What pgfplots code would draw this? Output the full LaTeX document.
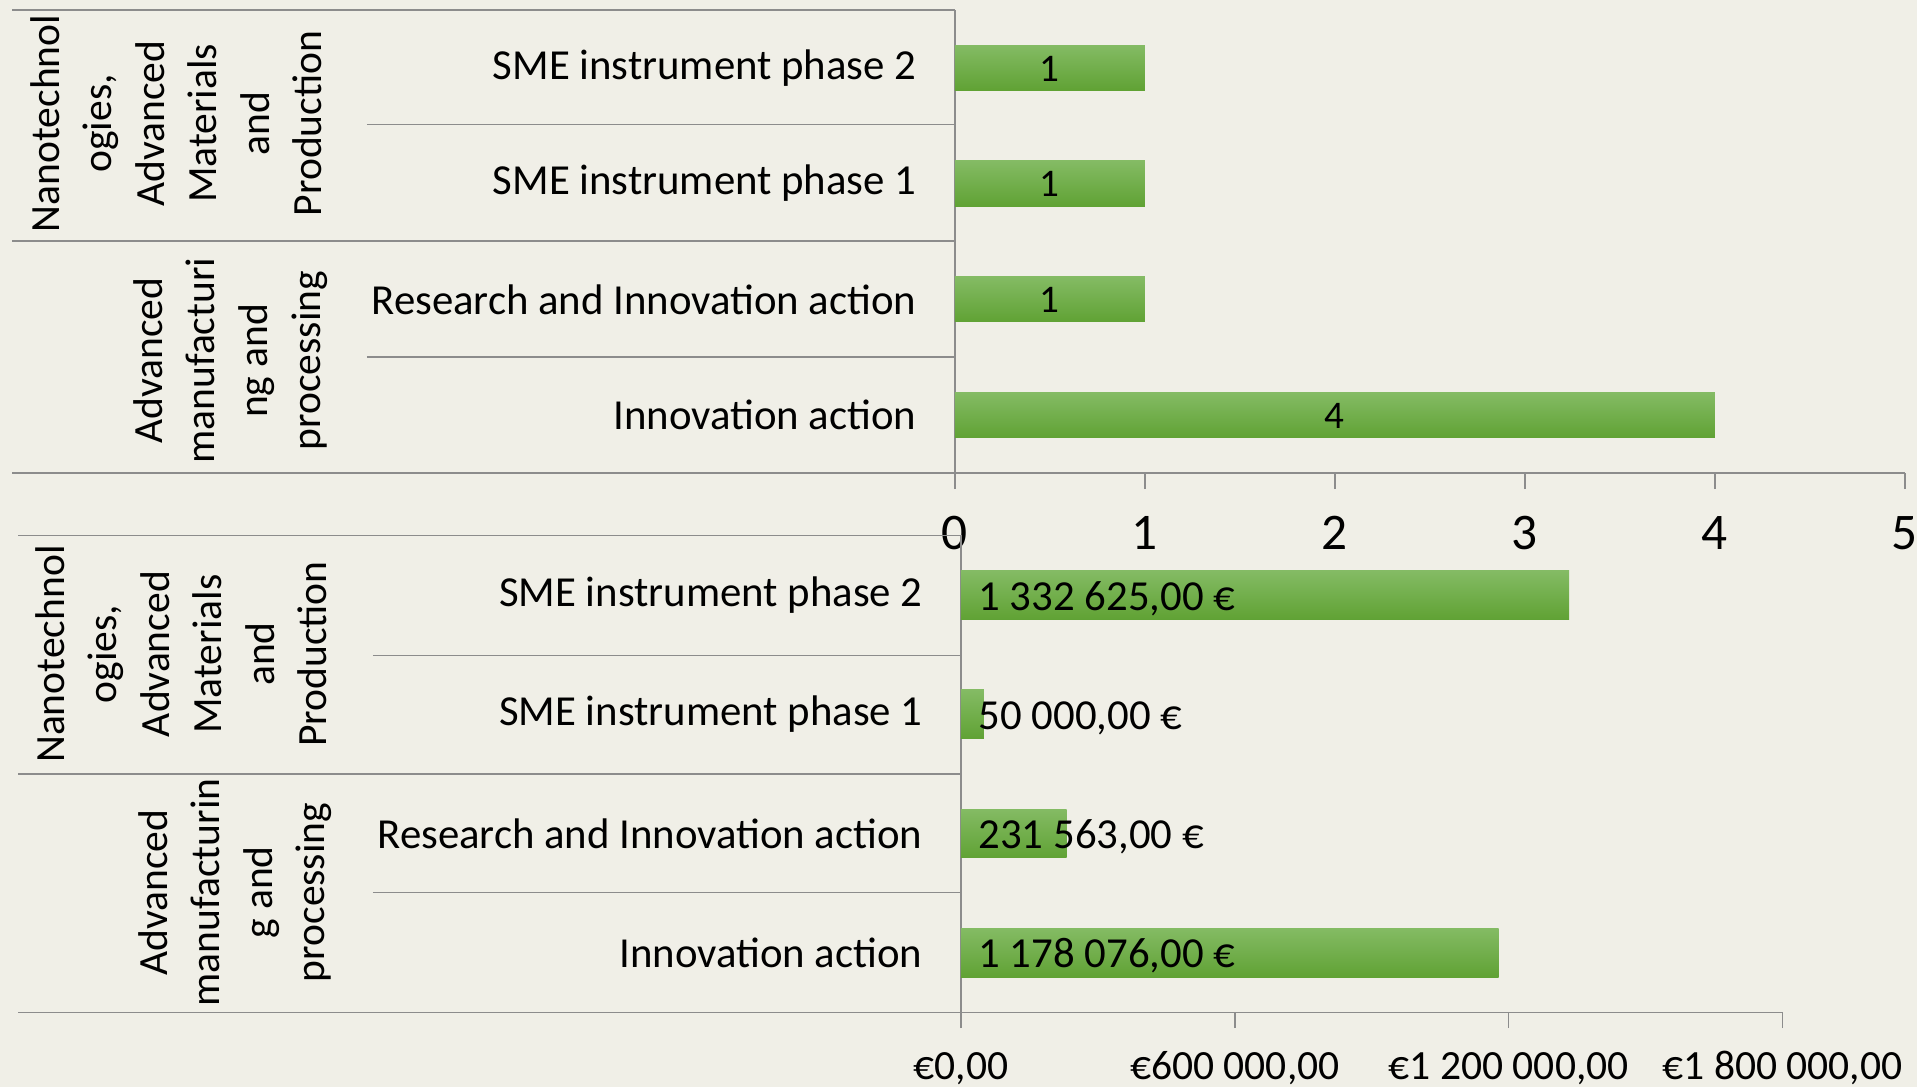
\documentclass[border=0pt]{standalone}
\usepackage{pgfplots}
\pgfplotsset{compat=1.18}
\usepackage{pgfplotstable}
\usepackage{fontspec}
\setmainfont{Carlito}
\definecolor{bg}{RGB}{240,239,231}
\definecolor{axgray}{RGB}{140,140,140}
\definecolor{barTop}{RGB}{132,187,100}
\definecolor{barMid}{RGB}{112,180,64}
\definecolor{barBot}{RGB}{96,162,52}

\pgfplotstableread[col sep=semicolon, row sep=\\]{
y;v\\
3;1\\
2;1\\
1;1\\
0;4\\
}\countdata

\pgfplotstableread[col sep=semicolon, row sep=\\]{
y;v;label\\
3;1332625;1 332 625,00 €\\
2;50000;50 000,00 €\\
1;231563;231 563,00 €\\
0;1178076;1 178 076,00 €\\
}\fundata

\newcommand{\fs}{\fontsize{17.5}{21.5}\selectfont}
\newcommand{\fg}{\fontsize{17}{21.5}\selectfont}

\pgfplotsset{
  common/.style={
    scale only axis, anchor=south west, clip=false,
    axis x line*=bottom, axis y line*=left,
    axis line style={axgray, line width=0.6pt, -},
    ymin=-0.5, ymax=3.5,
    ytick={0,1,2,3},
    yticklabels={Innovation action, Research and Innovation action, SME instrument phase 1, SME instrument phase 2},
    ytick style={draw=none},
    xtick style={axgray, line width=0.6pt},
    tick align=outside, major tick length=6.5pt,
    tick label style={font=\fs, text=black},
    yticklabel style={anchor=east, inner sep=0pt, xshift=-9pt},
    xticklabel style={anchor=base, inner sep=0pt},
    scaled x ticks=false,
  },
  gbar/.style={xbar, bar width=#1, draw=none, top color=barTop, middle color=barMid, bottom color=barBot, forget plot},
}

\begin{document}
\begin{tikzpicture}[font=\fs]
\fill[bg] (0,0) rectangle (784pt,444.5pt);
\useasboundingbox (0,0) rectangle (784pt,444.5pt);

% ---------- top chart: number of projects ----------
\begin{axis}[common,
  at={(390.5pt,251pt)}, width=388.5pt, height=189.5pt,
  xmin=0, xmax=5, xtick={0,1,2,3,4,5}, xticklabels={0,1,2,3,4,5},
  xticklabel style={yshift=-24.6pt, font=\fontsize{21}{24}\selectfont},
]
\addplot[gbar=18.5pt] coordinates {(1,3)};
\addplot[gbar=18.5pt] coordinates {(1,2)};
\addplot[gbar=18.5pt] coordinates {(1,1)};
\addplot[gbar=18.5pt] coordinates {(4,0)};
\addplot[draw=none, mark=none,
  nodes near coords, point meta=explicit symbolic,
  every node near coord/.append style={anchor=base, inner sep=0pt, yshift=-5.5pt, font=\fontsize{16}{19}\selectfont, text=black}]
  table[x expr=\thisrow{v}/2, y=y, meta=v]{\countdata};
\end{axis}

% ---------- bottom chart: funding ----------
\begin{axis}[common,
  at={(393pt,30.5pt)}, width=336pt, height=195pt,
  xmin=0, xmax=1800000, xtick={0,600000,1200000,1800000},
  xticklabels={{€0,00},{€600 000,00},{€1 200 000,00},{€1 800 000,00}},
  xticklabel style={yshift=-20.8pt, font=\fg},
]
\addplot[gbar=20pt] coordinates {(1332625,3)};
\addplot[gbar=20pt] coordinates {(50000,2)};
\addplot[gbar=20pt] coordinates {(231563,1)};
\addplot[gbar=20pt] coordinates {(1178076,0)};
\addplot[draw=none, mark=none,
  nodes near coords, point meta=explicit symbolic,
  every node near coord/.append style={anchor=base west, inner sep=0pt, xshift=7pt, yshift=-6.2pt, font=\fs, text=black}]
  table[x expr=0, y=y, meta=label]{\fundata};
\end{axis}

% ---------- category table lines and group labels (pixel coordinates) ----------
\begin{scope}[x=0.5pt, y=-0.5pt, shift={(0pt,444.5pt)}]
  \begin{scope}[axgray, line width=0.6pt]
    \draw (10,8) -- (781,8);
    \draw (300,102) -- (781,102);
    \draw (10,197) -- (781,197);
    \draw (300,292) -- (781,292);
    \draw (10,387) -- (781,387);
    \draw (15,438) -- (786,438);
    \draw (305,536) -- (786,536);
    \draw (15,633) -- (786,633);
    \draw (305,730) -- (786,730);
    \draw (15,828) -- (786,828);
  \end{scope}
  \begin{scope}[font=\fg]
  \node[rotate=90, anchor=south, align=center, inner sep=0pt] at (264,101)
    {Nanotechnol\\ogies,\\Advanced\\Materials\\and\\Production};
  \node[rotate=90, anchor=south, align=center, inner sep=0pt] at (268,295)
    {Advanced\\manufacturi\\ng and\\processing};
  \node[rotate=90, anchor=south, align=center, inner sep=0pt] at (268,535)
    {Nanotechnol\\ogies,\\Advanced\\Materials\\and\\Production};
  \node[rotate=90, anchor=south, align=center, inner sep=0pt] at (272,730)
    {Advanced\\manufacturin\\g and\\processing};
  \end{scope}
\end{scope}
\end{tikzpicture}
\end{document}
